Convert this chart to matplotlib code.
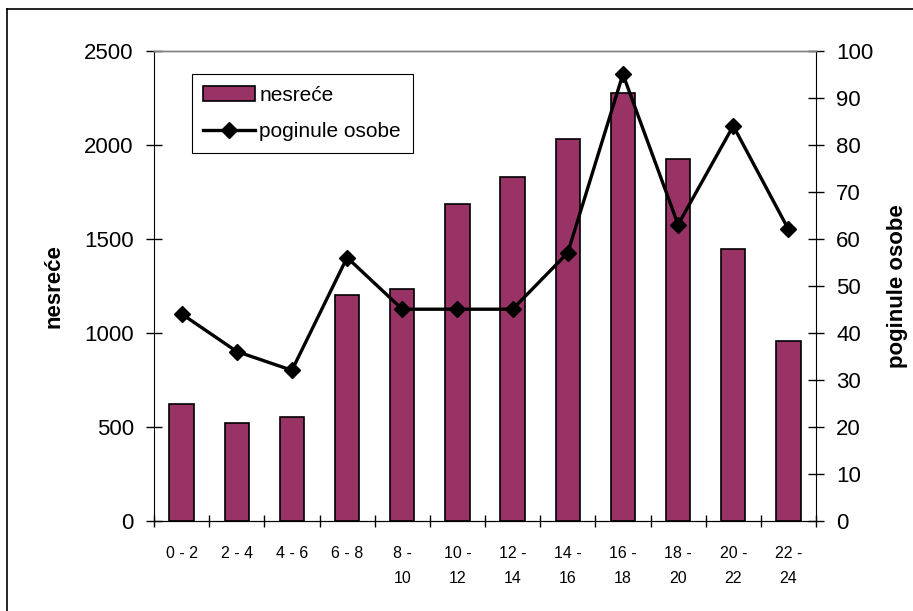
import numpy as np
import matplotlib.pyplot as plt
from matplotlib.lines import Line2D

plt.rcParams['font.family'] = ['Liberation Sans', 'DejaVu Sans']

# data
intervals = ['0 - 2', '2 - 4', '4 - 6', '6 - 8', '8 -\n10', '10 -\n12', '12 -\n14',
             '14 -\n16', '16 -\n18', '18 -\n20', '20 -\n22', '22 -\n24']
nesrece = [619, 521, 553, 1202, 1232, 1684, 1830, 2030, 2276, 1924, 1445, 956]
poginuli = [44, 36, 32, 56, 45, 45, 45, 57, 95, 63, 84, 62]
left_ticks = [0, 500, 1000, 1500, 2000, 2500]
right_ticks = [0, 10, 20, 30, 40, 50, 60, 70, 80, 90, 100]

W, H = 913, 611
fig = plt.figure(figsize=(W / 100, H / 100), dpi=100)
ax = fig.add_axes([154 / W, (H - 520.7) / H, 662 / W, 470 / H])
ax2 = ax.twinx()

x = np.arange(len(intervals))
bars = ax.bar(x, nesrece, width=0.44, color='#993366', edgecolor='black',
              linewidth=1.2, label='nesreće', zorder=2)
line, = ax2.plot(x, poginuli, color='black', linewidth=2.4, marker='D',
                 markersize=8, label='poginule osobe', zorder=3)

ax.set_xlim(-0.5, len(intervals) - 0.5)
ax.set_ylim(0, 2500)
ax2.set_ylim(0, 100)

# x ticks: marks on the category borders, labels in the middle
ax.set_xticks(x)
ax.set_xticklabels(intervals, fontsize=11.5, linespacing=1.85)
ax.tick_params(axis='x', which='major', length=0, pad=18)
ax.set_xticks(np.arange(-0.5, len(intervals)), minor=True)
ax.tick_params(axis='x', which='minor', direction='inout', length=9, width=1)

ax.set_yticks(left_ticks)
ax.tick_params(axis='y', direction='inout', length=11, width=1, labelsize=16, pad=9)
ax2.set_yticks(right_ticks)
ax2.tick_params(axis='y', direction='inout', length=11, width=1, labelsize=16, pad=9)

ax.set_ylabel('nesreće', fontsize=16, fontweight='bold', labelpad=14)
ax2.set_ylabel('poginule osobe', fontsize=16, fontweight='bold', labelpad=10)

for a in (ax, ax2):
    a.spines['top'].set_color('#808080')
    a.spines['top'].set_linewidth(1)
ax.spines['right'].set_visible(False)
ax2.spines['left'].set_visible(False)

leg = ax2.legend([bars, line], ['nesreće', 'poginule osobe'],
                 loc='upper left', bbox_to_anchor=(0.057, 0.95), borderaxespad=0,
                 fancybox=False, framealpha=1, edgecolor='black', fontsize=15,
                 handlelength=2.5, handletextpad=0.2, labelspacing=0.85,
                 borderpad=0.55)
leg.get_frame().set_linewidth(0.8)

# outer chart frame (only left and top edges are visible)
fig.add_artist(Line2D([7 / W, 7 / W], [0, 1 - 9 / H], color='black', linewidth=1.2))
fig.add_artist(Line2D([7 / W, 1], [1 - 9 / H, 1 - 9 / H], color='black', linewidth=1.2))

fig.savefig('out.png', dpi=100)
